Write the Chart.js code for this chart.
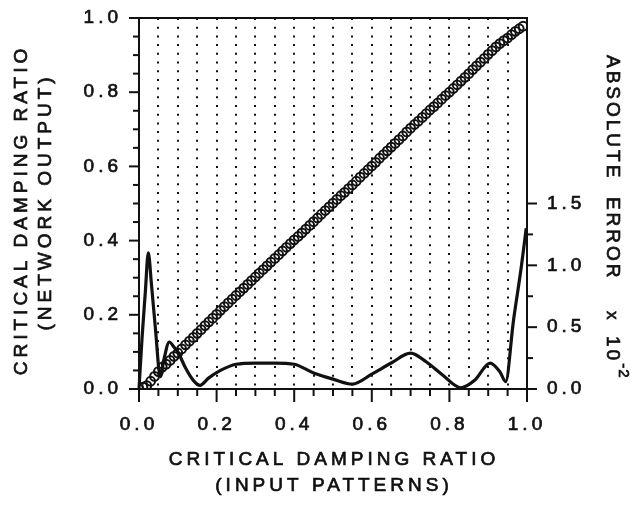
<!DOCTYPE html>
<html>
<head>
<meta charset="utf-8">
<script src="https://cdn.jsdelivr.net/npm/chart.js@4.4.1/dist/chart.umd.min.js"></script>
<style>
  html, body { margin: 0; padding: 0; background: #fff; }
</style>
</head>
<body>
<canvas id="myChart" width="638" height="506"></canvas>
<script>
// input patterns (critical damping ratio fed to the network)
const inputPatterns = [
  0.00, 0.01, 0.02, 0.03, 0.04, 0.05, 0.06, 0.07, 0.08, 0.09,
  0.10, 0.11, 0.12, 0.13, 0.14, 0.15, 0.16, 0.17, 0.18, 0.19,
  0.20, 0.21, 0.22, 0.23, 0.24, 0.25, 0.26, 0.27, 0.28, 0.29,
  0.30, 0.31, 0.32, 0.33, 0.34, 0.35, 0.36, 0.37, 0.38, 0.39,
  0.40, 0.41, 0.42, 0.43, 0.44, 0.45, 0.46, 0.47, 0.48, 0.49,
  0.50, 0.51, 0.52, 0.53, 0.54, 0.55, 0.56, 0.57, 0.58, 0.59,
  0.60, 0.61, 0.62, 0.63, 0.64, 0.65, 0.66, 0.67, 0.68, 0.69,
  0.70, 0.71, 0.72, 0.73, 0.74, 0.75, 0.76, 0.77, 0.78, 0.79,
  0.80, 0.81, 0.82, 0.83, 0.84, 0.85, 0.86, 0.87, 0.88, 0.89,
  0.90, 0.91, 0.92, 0.93, 0.94, 0.95, 0.96, 0.97, 0.98, 0.99
];

// network output
const networkOutput = [
  0.000, 0.005, 0.009, 0.021, 0.034, 0.047, 0.059, 0.067, 0.077, 0.088,
  0.097, 0.108, 0.119, 0.129, 0.139, 0.150, 0.160, 0.171, 0.181, 0.191,
  0.201, 0.212, 0.222, 0.232, 0.242, 0.252, 0.262, 0.272, 0.282, 0.292,
  0.302, 0.312, 0.322, 0.332, 0.342, 0.352, 0.362, 0.372, 0.382, 0.392,
  0.402, 0.411, 0.421, 0.431, 0.441, 0.451, 0.461, 0.471, 0.481, 0.491,
  0.501, 0.511, 0.521, 0.530, 0.540, 0.550, 0.560, 0.571, 0.581, 0.591,
  0.601, 0.611, 0.622, 0.632, 0.642, 0.652, 0.662, 0.672, 0.682, 0.693,
  0.703, 0.713, 0.722, 0.732, 0.742, 0.752, 0.761, 0.771, 0.781, 0.791,
  0.800, 0.810, 0.820, 0.830, 0.840, 0.850, 0.861, 0.871, 0.881, 0.891,
  0.902, 0.912, 0.922, 0.931, 0.939, 0.946, 0.955, 0.964, 0.971, 0.978
];

// absolute error curve (right axis, x 10^-2)
const errorX = [
  0.000, 0.008, 0.016, 0.024, 0.032, 0.042, 0.055, 0.065, 0.078, 0.090,
  0.100, 0.120, 0.140, 0.157, 0.180, 0.210, 0.250, 0.300, 0.350, 0.400,
  0.450, 0.500, 0.550, 0.600, 0.650, 0.700, 0.740, 0.780, 0.830, 0.865,
  0.905, 0.930, 0.945, 0.965, 0.985, 0.998
];
const errorValue = [
  0.00, 0.42, 0.77, 1.10, 0.85, 0.50, 0.10, 0.25, 0.38, 0.34,
  0.30, 0.17, 0.07, 0.03, 0.09, 0.15, 0.20, 0.21, 0.21, 0.20,
  0.13, 0.08, 0.04, 0.12, 0.21, 0.29, 0.22, 0.12, 0.01, 0.07,
  0.21, 0.14, 0.06, 0.55, 0.98, 1.30
];

const xTickLabels = ["0.0", "0.2", "0.4", "0.6", "0.8", "1.0"];
const leftTickLabels = ["0.0", "0.2", "0.4", "0.6", "0.8", "1.0"];
const rightTickLabels = ["0.0", "0.5", "1.0", "1.5"];

const FONT = "'Liberation Sans', Arial, sans-serif";
const INK = "#111";

// returns the label when v is one of the labelled ticks, else ""
function labelFor(v, labels) {
  const hit = labels.find((l) => Math.abs(parseFloat(l) - v) < 1e-6);
  return hit === undefined ? "" : hit;
}

function spaced(ctx, text, x, y, angle, size, spacing, align) {
  ctx.save();
  ctx.translate(x, y);
  ctx.rotate(angle);
  ctx.font = size + "px " + FONT;
  ctx.letterSpacing = spacing + "px";
  ctx.textAlign = align;
  ctx.textBaseline = "middle";
  ctx.fillStyle = INK;
  ctx.strokeStyle = INK;
  ctx.lineWidth = 0.7;
  const dx = align === "center" ? spacing / 2 : 0;
  ctx.fillText(text, dx, 0);
  ctx.strokeText(text, dx, 0);
  const w = ctx.measureText(text).width;
  ctx.restore();
  return w;
}

const decorPlugin = {
  id: "decor",
  beforeDraw(chart) {
    chart.ctx.letterSpacing = "4px";
  },
  afterDraw(chart) {
    const { ctx, chartArea: a, scales } = chart;
    ctx.save();
    ctx.letterSpacing = "0px";
    ctx.strokeStyle = INK;
    ctx.lineWidth = 2;
    ctx.strokeRect(a.left, a.top, a.right - a.left, a.bottom - a.top);

    const seg = (x1, y1, x2, y2) => {
      ctx.beginPath();
      ctx.moveTo(x1, y1);
      ctx.lineTo(x2, y2);
      ctx.stroke();
    };

    scales.x.ticks.forEach((t) => {
      const px = scales.x.getPixelForValue(t.value);
      const len = labelFor(t.value, xTickLabels) ? 13 : 7;
      seg(px, a.bottom, px, a.bottom + len);
    });
    scales.y.ticks.forEach((t) => {
      const py = scales.y.getPixelForValue(t.value);
      const len = labelFor(t.value, leftTickLabels) ? 10 : 6;
      seg(a.left, py, a.left - len, py);
    });
    scales.y1.ticks.forEach((t) => {
      const py = scales.y1.getPixelForValue(t.value);
      const len = labelFor(t.value, rightTickLabels) ? 10 : 6;
      seg(a.right, py, a.right + len, py);
    });
    ctx.restore();

    // axis titles
    spaced(ctx, "CRITICAL DAMPING RATIO", 332, 460, 0, 19, 4, "center");
    spaced(ctx, "(INPUT PATTERNS)", 332, 486, 0, 19, 4, "center");
    spaced(ctx, "CRITICAL DAMPING RATIO", 22, 212, -Math.PI / 2, 19, 4, "center");
    spaced(ctx, "(NETWORK OUTPUT)", 46, 204, -Math.PI / 2, 19, 4, "center");

    spaced(ctx, "ABSOLUTE  ERROR", 612, 55, Math.PI / 2, 19, 3, "left");
    spaced(ctx, "x", 612, 311, Math.PI / 2, 17, 0, "left");
    const w = spaced(ctx, "10", 612, 336, Math.PI / 2, 19, 3, "left");
    spaced(ctx, "-2", 623, 336 + w, Math.PI / 2, 15, 1, "left");
  },
};

const tickFont = { family: FONT, size: 19 };

const ctx = document.getElementById("myChart").getContext("2d");

new Chart(ctx, {
  type: "scatter",
  data: {
    datasets: [
      {
        label: "Network output",
        data: inputPatterns.map((x, i) => ({ x, y: networkOutput[i] })),
        yAxisID: "y",
        showLine: false,
        pointStyle: "circle",
        pointRadius: 4.4,
        pointBorderWidth: 2,
        pointBorderColor: INK,
        pointBackgroundColor: "rgba(0,0,0,0)",
      },
      {
        label: "Absolute error",
        data: errorX.map((x, i) => ({ x, y: errorValue[i] })),
        yAxisID: "y1",
        showLine: true,
        borderColor: INK,
        borderWidth: 3.2,
        pointRadius: 0,
        cubicInterpolationMode: "monotone",
        clip: false,
      },
    ],
  },
  options: {
    responsive: false,
    animation: false,
    devicePixelRatio: 1,
    layout: { padding: { top: 18, left: 0, right: 0, bottom: 0 } },
    plugins: { legend: { display: false }, tooltip: { enabled: false } },
    scales: {
      x: {
        type: "linear",
        min: 0,
        max: 1,
        afterFit: (s) => {
          s.height = 117;
          s.paddingLeft = 0;
          s.paddingRight = 0;
        },
        ticks: {
          stepSize: 0.05,
          autoSkip: false,
          maxRotation: 0,
          padding: 24,
          color: INK,
          font: tickFont,
          textStrokeColor: INK,
          textStrokeWidth: 0.7,
          callback: (v) => labelFor(v, xTickLabels),
        },
        grid: {
          drawTicks: false,
          lineWidth: 2,
          color: (c) =>
            c.tick && (c.tick.value <= 0.001 || c.tick.value >= 0.999)
              ? "rgba(0,0,0,0)"
              : INK,
        },
        border: { display: false, dash: [2, 6.7] },
      },
      y: {
        position: "left",
        min: 0,
        max: 1,
        afterFit: (s) => {
          s.width = 139;
          s.paddingTop = 0;
          s.paddingBottom = 0;
        },
        ticks: {
          stepSize: 0.05,
          autoSkip: false,
          padding: 17,
          color: INK,
          font: tickFont,
          textStrokeColor: INK,
          textStrokeWidth: 0.7,
          callback: (v) => labelFor(v, leftTickLabels),
        },
        grid: { display: false, drawTicks: false },
        border: { display: false },
      },
      y1: {
        position: "right",
        min: 0,
        max: 3,
        afterFit: (s) => {
          s.width = 111;
          s.paddingTop = 0;
          s.paddingBottom = 0;
        },
        afterBuildTicks: (s) => {
          s.ticks = s.ticks.filter((t) => t.value <= 1.5 + 1e-6);
        },
        ticks: {
          stepSize: 0.25,
          autoSkip: false,
          padding: 20,
          color: INK,
          font: tickFont,
          textStrokeColor: INK,
          textStrokeWidth: 0.7,
          callback: (v) => labelFor(v, rightTickLabels),
        },
        grid: { display: false, drawTicks: false },
        border: { display: false },
      },
    },
  },
  plugins: [decorPlugin],
});
</script>
</body>
</html>
